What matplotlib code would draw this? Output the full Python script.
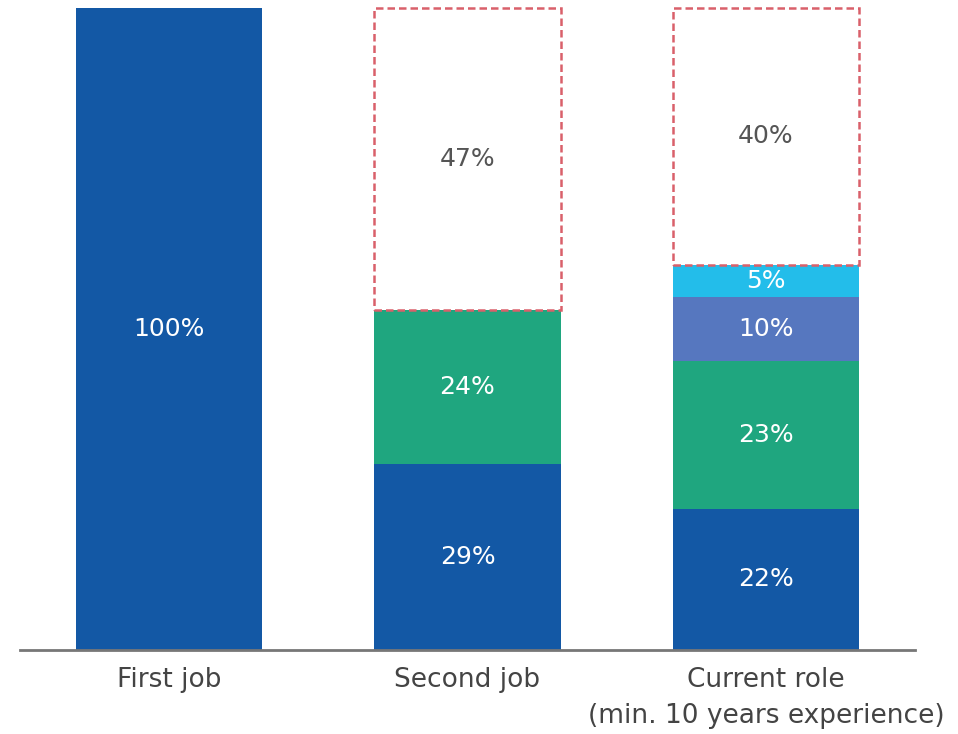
import numpy as np
import matplotlib.pyplot as plt

plt.rcParams['font.family'] = ['Liberation Sans Narrow', 'DejaVu Sans']

# data
categories = ["First job", "Second job", "Current role\n(min. 10 years experience)"]
seg_dark = [100, 29, 22]
seg_green = [0, 24, 23]
seg_purple = [0, 0, 10]
seg_light = [0, 0, 5]
seg_open = [0, 47, 40]   # dashed, unfilled remainder

colors = ["#1358A5", "#1FA67F", "#5677BF", "#23BDEA"]
filled = [seg_dark, seg_green, seg_purple, seg_light]

fig = plt.figure(figsize=(9.58, 7.34), dpi=100)
ax = fig.add_axes([20 / 958, 84 / 734, 895 / 958, 642 / 734])

x = np.arange(len(categories))
width = 0.624
bottom = np.zeros(len(categories))

for vals, col in zip(filled, colors):
    vals = np.array(vals, dtype=float)
    ax.bar(x, vals, width, bottom=bottom, color=col, edgecolor="none")
    for xi, b, v in zip(x, bottom, vals):
        if v > 0:
            ax.text(xi, b + v / 2, f"{v:.0f}%", ha="center", va="center",
                    color="white", fontsize=18)
    bottom += vals

# open (dashed) segments
for xi, b, v in zip(x, bottom, seg_open):
    if v > 0:
        ax.bar(xi, v, width, bottom=b, facecolor="none", edgecolor="#D9606A",
               linestyle=(0, (3, 1.6)), linewidth=1.8, clip_on=False)
        ax.text(xi, b + v / 2, f"{v:.0f}%", ha="center", va="center",
                color="#555555", fontsize=18)

ax.set_xlim(-0.5, 2.5)
ax.set_ylim(0, 100)
ax.set_yticks([])
ax.set_xticks(x)
ax.set_xticklabels(categories, fontsize=19, color="#444444", linespacing=1.5)
ax.tick_params(axis="x", length=0, pad=12)

for s in ["top", "right", "left"]:
    ax.spines[s].set_visible(False)
ax.spines["bottom"].set_color("#777777")
ax.spines["bottom"].set_linewidth(2)

fig.savefig("out.png", dpi=100)
